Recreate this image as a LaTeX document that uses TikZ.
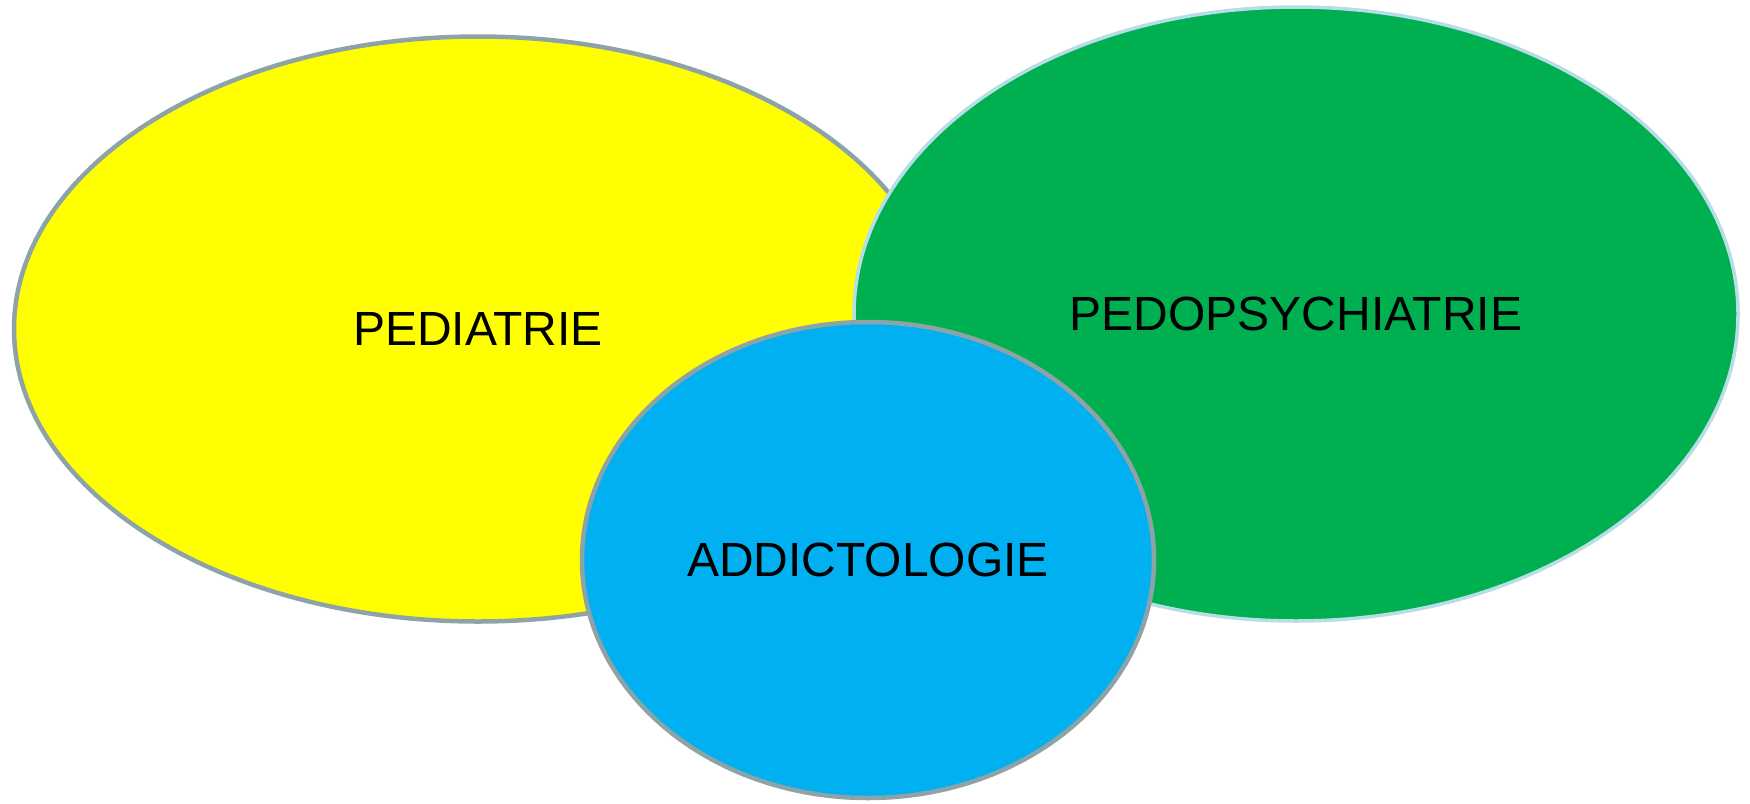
\documentclass[tikz,border=0pt]{standalone}
\usepackage{fontspec}
\setmainfont{Liberation Sans}
\usetikzlibrary{shapes.geometric}
\definecolor{pedyellow}{HTML}{FFFF00}
\definecolor{pedgreen}{HTML}{00AF50}
\definecolor{pedblue}{HTML}{00B0F0}
\definecolor{rimgray}{HTML}{8EA3A7}
\definecolor{rimlight}{HTML}{B7DDE6}

\begin{document}
\begin{tikzpicture}[x=1pt,y=-1pt,
      field/.style={ellipse,inner sep=0pt,line width=4.5pt,draw=rimgray,
        font=\fontsize{48}{56}\selectfont}]
      \useasboundingbox (0,0) rectangle (1750,803);

      % the three fields
      \node[field,fill=pedyellow,minimum width=928pt,minimum height=585pt]
        (pediatrie) at (478,329) {PEDIATRIE};
      \node[field,fill=pedgreen,draw=rimlight,line width=3.5pt,
        minimum width=884pt,minimum height=614pt]
        (pedopsy) at (1296,314) {PEDOPSYCHIATRIE};
      \node[field,fill=pedblue,minimum width=572pt,minimum height=476pt]
        (addicto) at (868,560) {ADDICTOLOGIE};
\end{tikzpicture}
\end{document}
